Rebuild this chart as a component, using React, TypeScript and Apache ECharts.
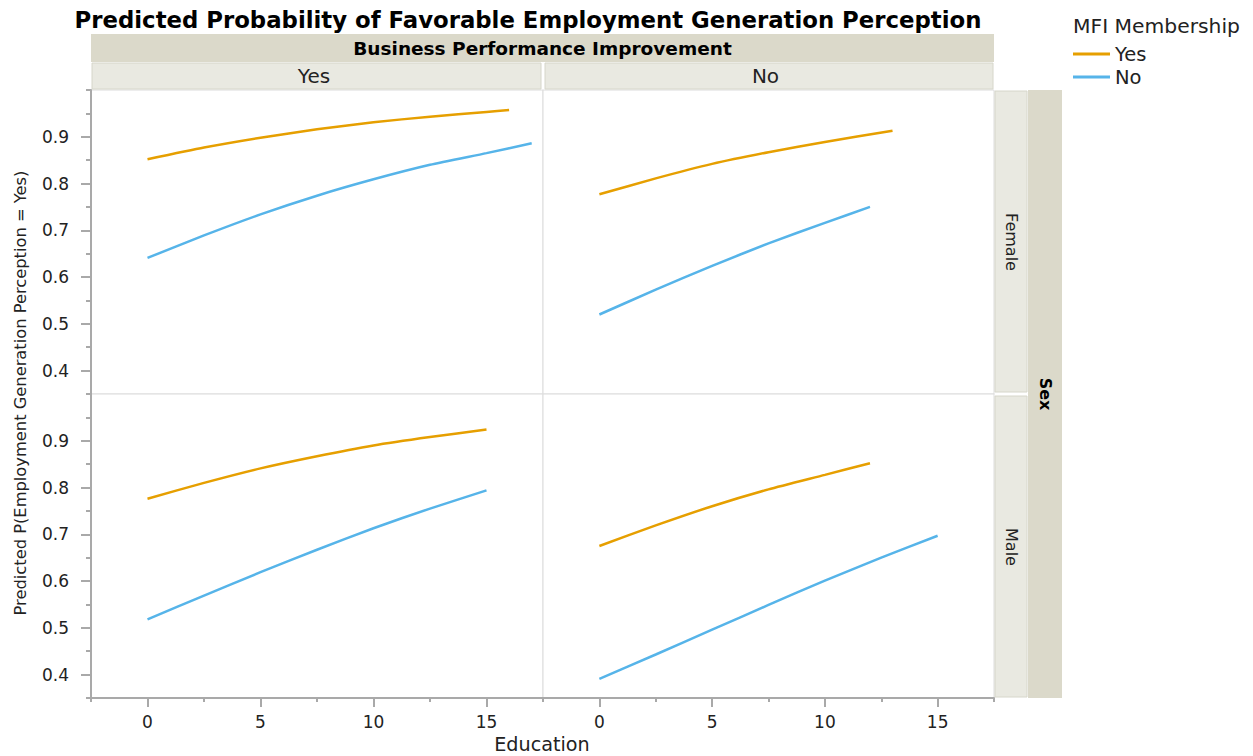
import React, { useEffect, useRef } from "react";
import * as echarts from "echarts";

// ---------- texts ----------
const titleText = "Predicted Probability of Favorable Employment Generation Perception";
const colFacetTitle = "Business Performance Improvement";
const colFacets = ["Yes", "No"];
const rowFacetTitle = "Sex";
const rowFacets = ["Female", "Male"];
const legendTitle = "MFI Membership";
const groups = ["Yes", "No"];
const yAxisTitle = "Predicted P(Employment Generation Perception = Yes)";
const xAxisTitle = "Education";
const yTickValues = [0.4, 0.5, 0.6, 0.7, 0.8, 0.9];
const xTickValues = [0, 5, 10, 15];

// ---------- data: Female / BPI Yes ----------
const eduFemBpiYes_MfiYes = [0, 2.5, 5, 7.5, 10, 12.5, 15, 16];
const probFemBpiYes_MfiYes = [0.852, 0.877, 0.898, 0.916, 0.931, 0.943, 0.953, 0.957];
const eduFemBpiYes_MfiNo = [0, 2.5, 5, 7.5, 10, 12.5, 15, 17];
const probFemBpiYes_MfiNo = [0.641, 0.689, 0.734, 0.774, 0.809, 0.84, 0.865, 0.886];
// ---------- Female / BPI No ----------
const eduFemBpiNo_MfiYes = [0, 2.5, 5, 7.5, 10, 13];
const probFemBpiNo_MfiYes = [0.777, 0.811, 0.842, 0.867, 0.889, 0.913];
const eduFemBpiNo_MfiNo = [0, 2.5, 5, 7.5, 10, 12];
const probFemBpiNo_MfiNo = [0.52, 0.573, 0.624, 0.672, 0.716, 0.75];
// ---------- Male / BPI Yes ----------
const eduMalBpiYes_MfiYes = [0, 2.5, 5, 7.5, 10, 12.5, 15];
const probMalBpiYes_MfiYes = [0.776, 0.81, 0.841, 0.867, 0.89, 0.908, 0.924];
const eduMalBpiYes_MfiNo = [0, 2.5, 5, 7.5, 10, 12.5, 15];
const probMalBpiYes_MfiNo = [0.518, 0.569, 0.619, 0.667, 0.713, 0.755, 0.794];
// ---------- Male / BPI No ----------
const eduMalBpiNo_MfiYes = [0, 2.5, 5, 7.5, 10, 12];
const probMalBpiNo_MfiYes = [0.675, 0.719, 0.76, 0.796, 0.827, 0.852];
const eduMalBpiNo_MfiNo = [0, 2.5, 5, 7.5, 10, 12.5, 15];
const probMalBpiNo_MfiNo = [0.391, 0.443, 0.496, 0.549, 0.601, 0.65, 0.697];

const groupColors = ["#E69F00", "#56B4E9"];
const FONT = "DejaVu Sans";

export default function App() {
  const ref = useRef<HTMLDivElement>(null);

  useEffect(() => {
    if (!ref.current) return;
    const chart = echarts.init(ref.current, undefined, { renderer: "svg" });

    // layout
    const L = 91, M = 543, R = 994, T = 90, MID = 394, B = 698;
    const grids = [
      { left: L, top: T, width: M - L, height: MID - T },
      { left: M, top: T, width: R - M, height: MID - T },
      { left: L, top: MID, width: M - L, height: B - MID },
      { left: M, top: MID, width: R - M, height: B - MID },
    ].map((g) => ({ ...g, show: true, borderColor: "#dcdcdc", borderWidth: 1, backgroundColor: "#fff" }));

    const axisGray = "#a9a9a9";
    const xAxes: any[] = [];
    const yAxes: any[] = [];
    for (let g = 0; g < 4; g++) {
      const bottomRow = g >= 2;
      const leftCol = g % 2 === 0;
      xAxes.push({
        type: "value", gridIndex: g, position: "bottom", min: -2.5, max: 17.5, interval: 2.5,
        axisLine: { show: bottomRow, onZero: false, lineStyle: { color: axisGray, width: 2 } },
        axisTick: { show: bottomRow, length: 4, lineStyle: { color: axisGray, width: 2 } },
        axisLabel: { show: false },
        splitLine: { show: false },
      });
      xAxes.push({
        type: "value", gridIndex: g, position: "bottom", min: -2.5, max: 17.5, interval: 2.5,
        axisLine: { show: false, onZero: false },
        axisTick: { show: bottomRow, length: 9, customValues: xTickValues, lineStyle: { color: axisGray, width: 2 } },
        axisLabel: { show: bottomRow, customValues: xTickValues, margin: 15, fontSize: 17, fontFamily: FONT, color: "#222" },
        splitLine: { show: false },
      });
      yAxes.push({
        type: "value", gridIndex: g, position: "left", min: 0.35, max: 1.0, interval: 0.05,
        axisLine: { show: leftCol, onZero: false, lineStyle: { color: axisGray, width: 2 } },
        axisTick: { show: leftCol, length: 5, lineStyle: { color: axisGray, width: 2 } },
        axisLabel: { show: false },
        splitLine: { show: false },
      });
      yAxes.push({
        type: "value", gridIndex: g, position: "left", min: 0.35, max: 1.0, interval: 0.05,
        axisLine: { show: false, onZero: false },
        axisTick: { show: leftCol, length: 10, customValues: yTickValues, lineStyle: { color: axisGray, width: 2 } },
        axisLabel: {
          show: leftCol, customValues: yTickValues, margin: 22, fontSize: 17, fontFamily: FONT, color: "#222",
          formatter: (v: number) => v.toFixed(1),
        },
        splitLine: { show: false },
      });
    }

    const panels = [
      { g: 0, k: 0, x: eduFemBpiYes_MfiYes, y: probFemBpiYes_MfiYes },
      { g: 0, k: 1, x: eduFemBpiYes_MfiNo, y: probFemBpiYes_MfiNo },
      { g: 1, k: 0, x: eduFemBpiNo_MfiYes, y: probFemBpiNo_MfiYes },
      { g: 1, k: 1, x: eduFemBpiNo_MfiNo, y: probFemBpiNo_MfiNo },
      { g: 2, k: 0, x: eduMalBpiYes_MfiYes, y: probMalBpiYes_MfiYes },
      { g: 2, k: 1, x: eduMalBpiYes_MfiNo, y: probMalBpiYes_MfiNo },
      { g: 3, k: 0, x: eduMalBpiNo_MfiYes, y: probMalBpiNo_MfiYes },
      { g: 3, k: 1, x: eduMalBpiNo_MfiNo, y: probMalBpiNo_MfiNo },
    ];
    const series = panels.map((p) => ({
      type: "line",
      name: groups[p.k],
      xAxisIndex: 2 * p.g,
      yAxisIndex: 2 * p.g,
      data: p.x.map((xv, i) => [xv, p.y[i]]),
      smooth: 0.2,
      showSymbol: false,
      symbol: "none",
      lineStyle: { color: groupColors[p.k], width: 2.5 },
      itemStyle: { color: groupColors[p.k] },
      z: 5,
    }));

    const darkStrip = "#dbd9ca";
    const lightStrip = "#e9e9e1";
    const stripBorder = "#d6d6ca";
    const graphic: any[] = [
      { type: "text", x: 528, y: 20, style: { text: titleText, font: `bold 22.8px '${FONT}'`, fill: "#000", align: "center", verticalAlign: "middle" } },
      { type: "rect", shape: { x: L, y: 34, width: R - L, height: 28 }, style: { fill: darkStrip } },
      { type: "text", x: (L + R) / 2, y: 48, style: { text: colFacetTitle, font: `bold 18.5px '${FONT}'`, fill: "#000", align: "center", verticalAlign: "middle" } },
      { type: "rect", shape: { x: L + 1, y: 63, width: M - L - 3, height: 26 }, style: { fill: lightStrip, stroke: stripBorder, lineWidth: 1 } },
      { type: "rect", shape: { x: M + 2, y: 63, width: R - M - 3, height: 26 }, style: { fill: lightStrip, stroke: stripBorder, lineWidth: 1 } },
      { type: "text", x: (L + M) / 2 - 3, y: 76, style: { text: colFacets[0], font: `20px '${FONT}'`, fill: "#222", align: "center", verticalAlign: "middle" } },
      { type: "text", x: (M + R) / 2 - 3, y: 76, style: { text: colFacets[1], font: `20px '${FONT}'`, fill: "#222", align: "center", verticalAlign: "middle" } },
      { type: "rect", shape: { x: R + 1, y: T + 1, width: 32, height: MID - T - 3 }, style: { fill: lightStrip, stroke: stripBorder, lineWidth: 1 } },
      { type: "rect", shape: { x: R + 1, y: MID + 2, width: 32, height: B - MID - 3 }, style: { fill: lightStrip, stroke: stripBorder, lineWidth: 1 } },
      { type: "rect", shape: { x: R + 34, y: T, width: 34, height: B - T }, style: { fill: darkStrip } },
      { type: "text", x: R + 17, y: 242, rotation: -Math.PI / 2, style: { text: rowFacets[0], font: `16px '${FONT}'`, fill: "#222", align: "center", verticalAlign: "middle" } },
      { type: "text", x: R + 17, y: 547, rotation: -Math.PI / 2, style: { text: rowFacets[1], font: `16px '${FONT}'`, fill: "#222", align: "center", verticalAlign: "middle" } },
      { type: "text", x: R + 51, y: MID, rotation: -Math.PI / 2, style: { text: rowFacetTitle, font: `bold 16px '${FONT}'`, fill: "#000", align: "center", verticalAlign: "middle" } },
      { type: "text", x: 20, y: 393, rotation: Math.PI / 2, style: { text: yAxisTitle, font: `16.3px '${FONT}'`, fill: "#222", align: "center", verticalAlign: "middle" } },
      { type: "text", x: 542, y: 744, style: { text: xAxisTitle, font: `19.2px '${FONT}'`, fill: "#222", align: "center", verticalAlign: "middle" } },
      { type: "text", x: 1073, y: 26, style: { text: legendTitle, font: `20.3px '${FONT}'`, fill: "#222", align: "left", verticalAlign: "middle" } },
    ];

    chart.setOption({
      animation: false,
      backgroundColor: "#fff",
      grid: grids,
      xAxis: xAxes,
      yAxis: yAxes,
      series,
      legend: {
        data: groups.map((n) => ({ name: n, icon: "rect" })),
        orient: "vertical",
        left: 1073,
        top: 44,
        padding: 0,
        itemWidth: 37,
        itemHeight: 3,
        itemGap: 3,
        selectedMode: false,
        textStyle: { fontSize: 19.5, fontFamily: FONT, color: "#222" },
      },
      graphic,
    });

    return () => chart.dispose();
  }, []);

  return (
    <div
      ref={ref}
      style={{ position: "fixed", left: 0, top: 0, width: 1253, height: 756, background: "#fff" }}
    />
  );
}
